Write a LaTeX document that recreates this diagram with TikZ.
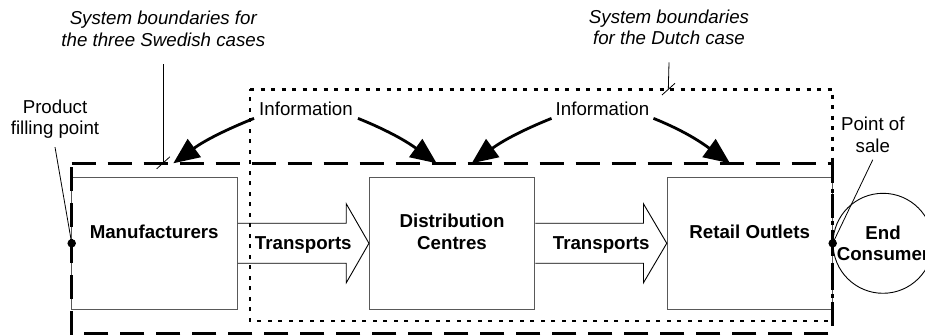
\documentclass[tikz,border=0pt]{standalone}
\usepackage{fontspec}
\setmainfont{Liberation Sans}
\usetikzlibrary{arrows.meta}
\begin{document}
\begin{tikzpicture}[x=1pt,y=1pt,
  every node/.style={font=\fontsize{18.7}{21.7}\selectfont, inner sep=0pt},
  box/.style={draw=black!65, line width=1pt, minimum width=165.5pt, minimum height=132pt, inner sep=0pt},
  lbl/.style={anchor=base, align=center, font=\fontsize{18.7}{21.7}\selectfont\bfseries},
  note/.style={anchor=base, align=center},
  inote/.style={anchor=base, align=center, font=\fontsize{18.7}{21.7}\selectfont\itshape},
  swedline/.style={line width=3pt, dash pattern=on 24pt off 12pt},
  dutchline/.style={line width=2.5pt, dash pattern=on 4pt off 6.5pt},
  transarrow/.style={draw=black, line width=0.9pt, line join=miter},
  infoarrow/.style={line width=2.8pt, line join=miter, -{Triangle[length=26pt,width=22pt]}},
  leader/.style={line width=0.8pt},
  dotpt/.style={circle, fill=black, inner sep=0pt, minimum size=8.5pt},
  consumer/.style={circle, draw=black, line width=0.9pt, minimum size=100pt, inner sep=0pt, align=center, font=\fontsize{18.7}{21.7}\selectfont\bfseries}
]
\clip (0,0) rectangle (925,336);
\fill[white] (0,0) rectangle (925,336);

% boxes
\node[box] (man) at (154.5,92.7) {};
\node[box] (dc)  at (452.2,92.7) {};
\node[box] (rt)  at (750,92.7) {};
\node[consumer] (ec) at (883,92.7) {End\\Consumer};

% box labels
\node[lbl] (manl) at (154.2,97.7) {Manufacturers};
\node[lbl] (dcl)  at (452,86.7) {Distribution\\Centres};
\node[lbl] (rtl)  at (749.7,97.7) {Retail Outlets};

% transport arrows
\draw[transarrow] ([yshift=20pt]man.east) -- ([xshift=-22.7pt,yshift=20pt]dc.west)
  -- ([xshift=-22.7pt,yshift=39.5pt]dc.west) -- (dc.west)
  -- ([xshift=-22.7pt,yshift=-39.5pt]dc.west) -- ([xshift=-22.7pt,yshift=-20pt]dc.west)
  -- ([yshift=-20pt]man.east);
\draw[transarrow] ([yshift=20pt]dc.east) -- ([xshift=-23.3pt,yshift=20pt]rt.west)
  -- ([xshift=-23.3pt,yshift=39.5pt]rt.west) -- (rt.west)
  -- ([xshift=-23.3pt,yshift=-39.5pt]rt.west) -- ([xshift=-23.3pt,yshift=-20pt]rt.west)
  -- ([yshift=-20pt]dc.east);
\node[lbl] (tr1) at (303.3,86.7) {Transports};
\node[lbl] (tr2) at (601.2,86.7) {Transports};

% system boundaries
\draw[dutchline] (250,246.7) -- (832.7,246.7) -- (832.7,15) -- (250,15) -- cycle;
\draw[swedline] (71.7,172.7) -- (832.7,172.7) -- (832.7,2) -- (71.7,2) -- cycle;

% points
\node[dotpt] (fp) at (71.7,92.7) {};
\node[dotpt] (ps) at (832.7,92.7) {};

% notes
\node[note] (prod) at (55,201) {Product\\filling point};
\node[note] (pos) at (872.8,183.3) {Point of\\sale};
\node[inote] (swe) at (163.3,289.3) {System boundaries for\\the three Swedish cases};
\node[inote] (dut) at (669,291) {System boundaries\\for the Dutch case};

\draw[leader] ([yshift=-8pt]prod.south) -- (fp.center);
\draw[leader] ([yshift=-6.6pt]pos.south) -- (ps.center);

\coordinate (sb1) at (163.3,172.7);
\coordinate (sb2) at (668.3,246.7);
\draw[leader] ([yshift=-17.3pt]swe.south) -- (sb1);
\draw[leader] ([shift={(-6.6pt,-5.5pt)}]sb1) -- ([shift={(6.6pt,6.5pt)}]sb1);
\draw[leader] ([yshift=-17pt]dut.south) -- (sb2);
\draw[leader] ([shift={(-6.3pt,-5.7pt)}]sb2) -- ([shift={(6.7pt,6pt)}]sb2);

% information
\node[note] (i1) at (306,220) {Information};
\node[note] (i2) at (602.5,220) {Information};
\coordinate (t1) at (173.3,172.7);
\coordinate (t2) at (436.7,172.7);
\coordinate (t3) at (471.7,172.7);
\coordinate (t4) at (730,172.7);
\draw[infoarrow] ([xshift=-5pt,yshift=-2pt]i1.south west) to[out=202,in=36] (t1);
\draw[infoarrow] ([xshift=5pt,yshift=-2pt]i1.south east) to[out=-22,in=144] (t2);
\draw[infoarrow] ([xshift=-4pt,yshift=-2pt]i2.south west) to[out=202,in=36] (t3);
\draw[infoarrow] ([xshift=4pt,yshift=-2pt]i2.south east) to[out=-22,in=144] (t4);
\end{tikzpicture}
\end{document}
